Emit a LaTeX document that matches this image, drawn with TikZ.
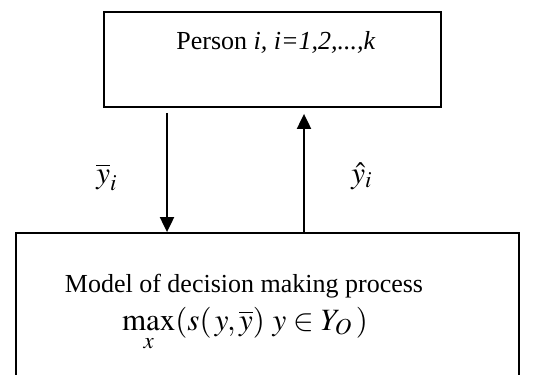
\documentclass[tikz,border=0pt]{standalone}
\usepackage{mathptmx}
\usepackage[no-math]{fontspec}
\setmainfont{Liberation Serif}
\usepackage{tikz}
\usetikzlibrary{arrows.meta,positioning}

\begin{document}
\begin{tikzpicture}[
    x=0.5pt, y=-0.5pt,
    font=\fontsize{13}{15}\selectfont,
    box/.style={draw, line width=0.9pt, inner sep=0pt},
    txt/.style={anchor=base, inner sep=0pt},
    mth/.style={txt, font=\fontsize{15.5}{18}\selectfont},
    flow/.style={-{Triangle[width=7pt,length=7.5pt]}, line width=1pt}
  ]
  \useasboundingbox (0,0) rectangle (549,374);

  \node[box, minimum width=168.5pt, minimum height=47.5pt] (person) at (272.5,59.5) {};
  \node[txt] (persontxt) at (276,50) {Person \textit{i, i=1,2,...,k}};

  \node[box, minimum width=251.5pt, minimum height=72pt] (model) at (267.5,305) {};
  \node[txt] (modeltxt) at (244,292) {Model of decision making process};
  \node[mth] (maxtxt) at (245,330) {$\max\limits_{x}(s(\,y,\overline{y})\ y\in Y_{O}\,)$};

  \draw[flow, shorten <=2.5pt] ([xshift=-52.75pt]person.south) -- ([xshift=-52.75pt]person.south |- model.north);
  \draw[flow, shorten >=3pt] ([xshift=15.75pt]person.south |- model.north) -- ([xshift=15.75pt]person.south);

  \node[mth] (ybar) at (107,183) {$\overline{y}_{i}$};
  \node[mth] (yhat) at (362,183) {$\hat{y}_{i}$};
\end{tikzpicture}
\end{document}
